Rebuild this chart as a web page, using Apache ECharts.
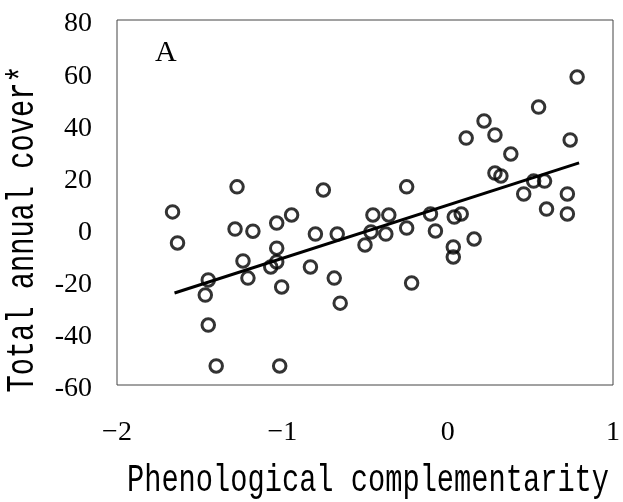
<!DOCTYPE html>
<html>
<head>
<meta charset="utf-8">
<script src="https://cdn.jsdelivr.net/npm/echarts@6/dist/echarts.min.js"></script>
<style>
  html, body { margin: 0; padding: 0; background: #fff; }
  #chart { width: 623px; height: 502px; }
</style>
</head>
<body>
<div id="chart"></div>
<script>
// phenological complementarity (x) vs total annual cover* (y)
var pointX = [-1.664, -1.634, -1.274, -1.286, -1.178, -1.238, -1.208, -1.448, -1.466, -1.448,
  -1.40, -1.016, -1.034, -0.944, -0.800, -0.668, -0.752, -1.034, -1.034, -1.070,
  -1.004, -0.830, -0.686, -0.650, -0.452, -0.356, -0.464, -0.500, -0.374, -0.248,
  -0.248, -0.218, -0.104, -0.074, 0.040, 0.082, 0.034, 0.034, 0.160, 0.112,
  0.220, 0.286, 0.286, 0.322, 0.382, 0.460, 0.520, 0.586, 0.550, 0.598,
  0.724, 0.724, 0.741, 0.783];
var pointY = [6.4, -5.5, 16.0, -0.2, -1.0, -12.4, -19.0, -19.7, -25.5, -37.0,
  -52.7, -52.7, 2.1, 5.2, -2.1, -2.1, 14.8, -7.5, -12.8, -14.7,
  -22.4, -14.7, -19.0, -28.6, 5.2, 5.2, -1.3, -6.3, -2.1, 0.2,
  16.0, -20.9, 5.6, -0.9, 4.4, 5.6, -7.1, -10.9, -4.0, 34.7,
  41.3, 35.9, 21.3, 20.2, 28.6, 13.3, 18.2, 18.2, 46.6, 7.5,
  13.3, 5.6, 34.0, 58.1];

// fitted line at its two ends
var fitX = [-1.652, 0.795];
var fitY = [-24.7, 25.2];

var xTicks = [-2, -1, 0, 1];
var yTicks = [-60, -40, -20, 0, 20, 40, 60, 80];

var chart = echarts.init(document.getElementById('chart'));

var pts = [];
for (var i = 0; i < pointX.length; i++) {
  pts.push([pointX[i], pointY[i]]);
}
var fit = [];
for (var j = 0; j < fitX.length; j++) {
  fit.push([fitX[j], fitY[j]]);
}

var option = {
  backgroundColor: '#fff',
  animation: false,
  grid: {
    left: 117,
    right: 6,
    top: 20,
    bottom: 117,
    show: true,
    borderColor: '#444',
    borderWidth: 1
  },
  xAxis: {
    type: 'value',
    min: xTicks[0],
    max: xTicks[xTicks.length - 1],
    interval: 1,
    axisLine: { show: false },
    axisTick: { show: false },
    splitLine: { show: false },
    axisLabel: {
      margin: 34,
      fontFamily: 'Liberation Serif',
      fontSize: 28,
      color: '#000',
      formatter: function (v) { return String(v).replace('-', '\u2212'); }
    }
  },
  yAxis: {
    type: 'value',
    min: yTicks[0],
    max: yTicks[yTicks.length - 1],
    interval: 20,
    axisLine: { show: false },
    axisTick: { show: false },
    splitLine: { show: false },
    axisLabel: {
      margin: 25,
      fontFamily: 'Liberation Serif',
      fontSize: 28,
      color: '#000',
      formatter: '{v|{value}}',
      rich: {
        v: { fontFamily: 'Liberation Serif', fontSize: 28, color: '#000', padding: [8, 0, 0, 0] }
      }
    }
  },
  graphic: [
    {
      type: 'text',
      left: 155,
      top: 38,
      style: { text: 'A', fontFamily: 'Liberation Serif', fontSize: 30, fill: '#000' }
    },
    {
      type: 'text',
      x: 368,
      y: 481,
      scaleX: 0.755,
      style: {
        text: 'Phenological complementarity',
        fontFamily: 'Liberation Mono',
        fontSize: 38,
        fill: '#000',
        align: 'center',
        verticalAlign: 'middle'
      }
    },
    {
      type: 'text',
      x: 23,
      y: 229,
      rotation: Math.PI / 2,
      scaleX: 0.755,
      style: {
        text: 'Total annual cover*',
        fontFamily: 'Liberation Mono',
        fontSize: 38,
        fill: '#000',
        align: 'center',
        verticalAlign: 'middle'
      }
    }
  ],
  series: [
    {
      type: 'line',
      data: fit,
      symbol: 'none',
      lineStyle: { color: '#000', width: 3 },
      z: 2
    },
    {
      type: 'scatter',
      data: pts,
      symbol: 'circle',
      symbolSize: 12.5,
      itemStyle: { color: 'rgba(0,0,0,0)', borderColor: '#000', borderWidth: 3 },
      z: 3
    }
  ]
};

chart.setOption(option);
</script>
</body>
</html>
